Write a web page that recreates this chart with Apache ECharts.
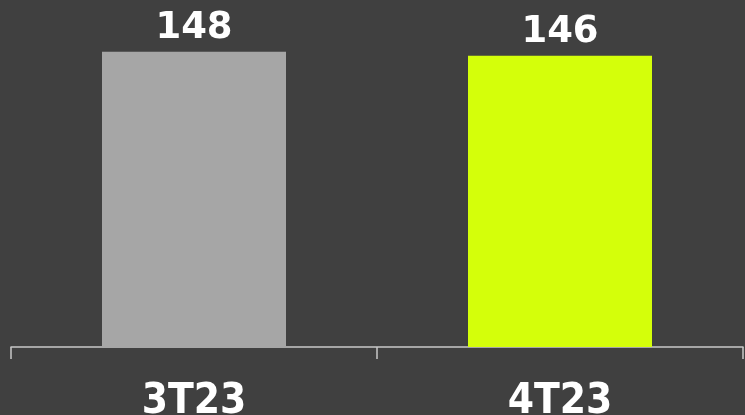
<!DOCTYPE html>
<html>
<head>
<meta charset="utf-8">
<script src="https://cdn.jsdelivr.net/npm/echarts@6/dist/echarts.min.js"></script>
<style>
html,body{margin:0;padding:0;background:#404040;}
#c{width:745px;height:415px;}
</style>
</head>
<body>
<div id="c"></div>
<script>
const categories = ['3T23', '4T23'];
const values = [148, 146];
const barColors = ['#A6A6A6', '#D4FF0A'];

const chart = echarts.init(document.getElementById('c'), null, {renderer: 'canvas'});
chart.setOption({
  backgroundColor: '#404040',
  animation: false,
  grid: {left: 11, right: 2, top: 0, bottom: 68, containLabel: false, outerBoundsMode: 'none'},
  xAxis: {
    type: 'category',
    data: categories,
    axisLine: {lineStyle: {color: '#C8C8C8', width: 1.5}},
    axisTick: {show: true, length: 12, lineStyle: {color: '#C8C8C8', width: 1.5}},
    axisLabel: {
      color: '#FFFFFF',
      fontFamily: 'DejaVu Sans Condensed',
      fontWeight: 'bold',
      fontSize: 42,
      margin: 34
    }
  },
  yAxis: {
    type: 'value', min: 0, max: 174, show: false,
    splitLine: {show: false}
  },
  series: [{
    type: 'bar',
    barWidth: 184,
    data: values.map((v, i) => ({value: v, itemStyle: {color: barColors[i]}})),
    label: {
      show: true, position: 'top', distance: 5,
      color: '#FFFFFF', fontFamily: 'DejaVu Sans', fontWeight: 'bold', fontSize: 37
    }
  }]
});
</script>
</body>
</html>
